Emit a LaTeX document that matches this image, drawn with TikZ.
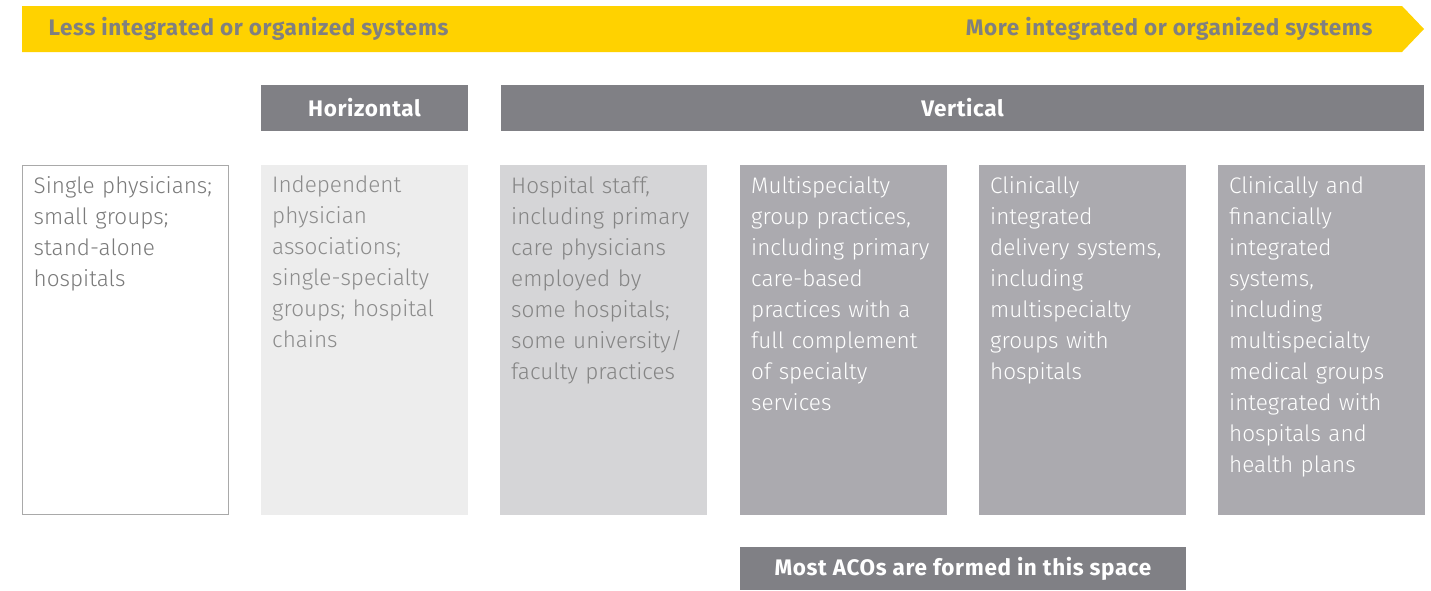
\documentclass[tikz,border=0pt]{standalone}
\usepackage{fontspec}
\setmainfont{Fira Sans}[UprightFont=* Light, BoldFont=* Bold, BoldFeatures={LetterSpace=2.8}]
\definecolor{eyyellow}{HTML}{FFD200}
\definecolor{bardark}{HTML}{808085}
\definecolor{arrowtxt}{HTML}{808080}
\definecolor{box2}{HTML}{EDEDED}
\definecolor{box3}{HTML}{D5D5D7}
\definecolor{box4}{HTML}{ABAAAF}
\definecolor{txt1}{HTML}{7A7A7A}
\definecolor{txt2}{HTML}{8C8C8C}
\definecolor{txt3}{HTML}{858585}
\definecolor{border1}{HTML}{A9A9A9}
\begin{document}
\begin{tikzpicture}[x=1pt,y=-1pt,
  colbox/.style={anchor=north west, minimum width=207pt, minimum height=350pt, inner sep=0pt, outer sep=0pt},
  coltxt/.style={anchor=north west, text width=195pt, align=left, inner xsep=11pt, inner ysep=11pt,
     font=\fontsize{22.5}{31}\selectfont},
  barbox/.style={anchor=north west, minimum height=46pt, inner sep=0pt, outer sep=0pt, fill=bardark,
     text=white, font=\bfseries\fontsize{22.5}{26}\selectfont},
  arrowlbl/.style={text=arrowtxt, font=\bfseries\fontsize{22.5}{26}\selectfont}
]
\useasboundingbox (0,0) rectangle (1431,590);
% yellow arrow
\fill[eyyellow] (22,6) -- (1402,6) -- (1424,29) -- (1402,52) -- (22,52) -- cycle;
\node[arrowlbl, anchor=west] (less) at (45,29) {Less integrated or organized systems};
\node[arrowlbl, anchor=east] (more) at (1376,29) {More integrated or organized systems};
% header bars
\node[barbox, minimum width=207pt] (horiz) at (261,85) {Horizontal};
\node[barbox, minimum width=923pt] (vert) at (501,85) {Vertical};
% boxes
\node[colbox, fill=white, draw=border1, line width=1pt, minimum width=206pt, minimum height=349pt] (b1) at (22.5,165.5) {};
\node[colbox, fill=box2] (b2) at (261,165) {};
\node[colbox, fill=box3] (b3) at (500,165) {};
\node[colbox, fill=box4] (b4) at (740,165) {};
\node[colbox, fill=box4] (b5) at (979,165) {};
\node[colbox, fill=box4] (b6) at (1218,165) {};
\node[coltxt, text=txt1] (t1) at (b1.north west) {Single physicians;\\ small groups;\\ stand-alone\\ hospitals};
\node[coltxt, text=txt2] (t2) at (b2.north west) {Independent\\ physician\\ associations;\\ single-specialty\\ groups; hospital\\ chains};
\node[coltxt, text=txt3] (t3) at (b3.north west) {Hospital staff,\\ including primary\\ care physicians\\ employed by\\ some hospitals;\\ some university/\\ faculty practices};
\node[coltxt, text=white] (t4) at (b4.north west) {Multispecialty\\ group practices,\\ including primary\\ care-based\\ practices with a\\ full complement\\ of specialty\\ services};
\node[coltxt, text=white] (t5) at (b5.north west) {Clinically\\ integrated\\ delivery systems,\\ including\\ multispecialty\\ groups with\\ hospitals};
\node[coltxt, text=white] (t6) at (b6.north west) {Clinically and\\ financially\\ integrated\\ systems,\\ including\\ multispecialty\\ medical groups\\ integrated with\\ hospitals and\\ health plans};
% bottom bar
\node[barbox, minimum width=446pt, minimum height=43pt] (aco) at (740,547) {Most ACOs are formed in this space};
\end{tikzpicture}
\end{document}
